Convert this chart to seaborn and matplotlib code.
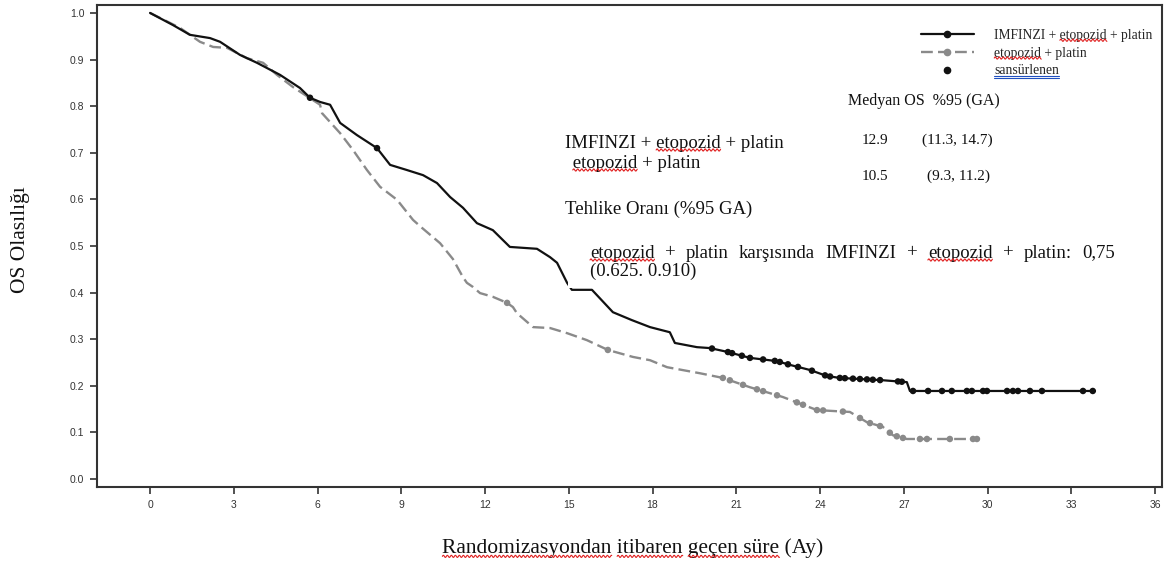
import numpy as np
import pandas as pd
import matplotlib
matplotlib.use("Agg")
import matplotlib.pyplot as plt
import seaborn as sns
from matplotlib.lines import Line2D
from matplotlib.patches import Rectangle

# ---------------- data (months, survival probability) ----------------
imf_t = [0.0, 0.82, 1.43, 2.15, 2.51, 3.22, 3.83, 4.66, 5.37, 5.73, 6.09, 6.45,
         6.81, 7.41, 8.13, 8.60, 9.20, 9.78, 10.28, 10.75, 11.21, 11.71, 12.28,
         12.89, 13.86, 14.33, 14.58, 14.94, 15.11, 15.83, 16.58, 17.26, 17.91,
         18.62, 18.80, 19.59, 20.06, 20.67, 21.49, 22.46, 22.92, 23.64, 24.25,
         24.71, 26.25, 27.11, 27.22, 33.85]
imf_s = [1.0, 0.974, 0.953, 0.946, 0.938, 0.910, 0.893, 0.867, 0.839, 0.818, 0.809, 0.803,
         0.764, 0.738, 0.710, 0.674, 0.663, 0.652, 0.635, 0.605, 0.582, 0.549, 0.534,
         0.498, 0.494, 0.476, 0.464, 0.421, 0.406, 0.406, 0.358, 0.341, 0.326,
         0.315, 0.292, 0.283, 0.281, 0.273, 0.260, 0.253, 0.245, 0.234, 0.221,
         0.217, 0.212, 0.208, 0.189, 0.189]

ep_t = [0.0, 1.07, 1.79, 2.26, 2.76, 3.47, 4.05, 4.55, 5.12, 6.09, 6.16, 6.81,
        7.27, 7.77, 8.24, 8.85, 9.42, 9.74, 10.39, 10.85, 11.21, 11.35, 11.57,
        11.82, 12.28, 12.79, 13.0, 13.14, 13.72, 14.33, 14.94, 15.65, 16.40,
        17.30, 17.91, 18.52, 19.70, 20.52, 21.49, 22.67, 23.89, 25.07, 25.68,
        26.25, 26.61, 27.11, 29.73]
ep_s = [1.0, 0.968, 0.938, 0.927, 0.925, 0.903, 0.893, 0.867, 0.841, 0.803, 0.785, 0.742,
        0.706, 0.663, 0.627, 0.599, 0.556, 0.539, 0.506, 0.472, 0.433, 0.421, 0.412,
        0.399, 0.391, 0.378, 0.369, 0.356, 0.326, 0.324, 0.313, 0.298, 0.277,
        0.262, 0.255, 0.240, 0.227, 0.217, 0.197, 0.176, 0.148, 0.144, 0.122,
        0.112, 0.094, 0.086, 0.086]

imf_censored = [5.73, 8.13, 20.13, 20.70, 20.85, 21.20, 21.49, 21.96, 22.38, 22.56,
                22.85, 23.21, 23.71, 24.18, 24.36, 24.71, 24.89, 25.18, 25.43, 25.68,
                25.89, 26.15, 26.79, 26.93, 27.33, 27.87, 28.37, 28.72, 29.26, 29.44,
                29.84, 29.98, 30.70, 30.91, 31.09, 31.52, 31.95, 33.42, 33.77]
ep_censored = [12.79, 16.40, 20.52, 20.77, 21.24, 21.74, 21.96, 22.46, 23.17, 23.39,
               23.89, 24.11, 24.82, 25.43, 25.79, 26.15, 26.50, 26.75, 26.97, 27.58,
               27.83, 28.65, 29.48, 29.62]

x_ticks = list(range(0, 37, 3))
y_ticks = [0.0, 0.1, 0.2, 0.3, 0.4, 0.5, 0.6, 0.7, 0.8, 0.9, 1.0]

label_imf = "IMFINZI + etopozid + platin"
label_ep = "etopozid + platin"
label_cens = "sansürlenen"

# ---------------- figure ----------------
sns.set_theme(style="ticks")
plt.rcParams['font.family'] = ['Liberation Serif', 'DejaVu Serif']

W, H = 1167, 566
fig = plt.figure(figsize=(W / 100, H / 100), dpi=100)
fig.patch.set_facecolor("white")
ax = fig.add_axes([97 / W, 1 - 487 / H, (1162 - 97) / W, (487 - 5) / H])
ax.set_facecolor("white")

BLACK = "#111111"
GREY = "#8a8a8a"

df_imf = pd.DataFrame({"t": imf_t, "s": imf_s})
df_ep = pd.DataFrame({"t": ep_t, "s": ep_s})

sns.lineplot(data=df_ep, x="t", y="s", sort=False, estimator=None, ax=ax,
             color=GREY, linewidth=1.7, linestyle=(0, (5, 2.2)), zorder=2)
sns.lineplot(data=df_imf, x="t", y="s", sort=False, estimator=None, ax=ax,
             color=BLACK, linewidth=1.6, zorder=3)

imf_cy = np.interp(imf_censored, imf_t, imf_s)
ep_cy = np.interp(ep_censored, ep_t, ep_s)
sns.scatterplot(x=ep_censored, y=ep_cy, ax=ax, color=GREY, s=22,
                edgecolor="none", linewidth=0, zorder=3)
sns.scatterplot(x=imf_censored, y=imf_cy, ax=ax, color=BLACK, s=22,
                edgecolor="none", linewidth=0, zorder=4)

ax.set_xlim(-1.9, 36.25)
ax.set_ylim(-0.017, 1.017)
ax.set_xticks(x_ticks)
ax.set_xticklabels([str(v) for v in x_ticks])
ax.set_yticks(y_ticks)
ax.set_yticklabels([f"{v:.1f}" for v in y_ticks])

for sp in ax.spines.values():
    sp.set_visible(True)
    sp.set_color("#333333")
    sp.set_linewidth(1.5)

tick_font = ['Liberation Sans Narrow', 'Liberation Sans', 'DejaVu Sans']
ax.tick_params(axis="both", direction="out", length=5, width=1.2, color="#333333",
               labelsize=7.5, labelcolor="#333333", pad=4)
ax.tick_params(axis="x", pad=4)
for lab in ax.get_xticklabels() + ax.get_yticklabels():
    lab.set_family(tick_font)

ax.set_xlabel("Randomizasyondan itibaren geçen süre (Ay)", fontsize=15.5, color="#111111")
ax.set_ylabel("OS Olasılığı", fontsize=15.5, color="#111111")
ax.xaxis.set_label_coords((633 - 97) / 1065, (487 - 548) / 482)
ax.xaxis.label.set_va("center")
ax.yaxis.set_label_coords((21 - 97) / 1065, (487 - 240) / 482)
ax.yaxis.label.set_va("center")

# ---------------- legend ----------------
handles = [
    Line2D([0, 0.5, 1], [0, 0, 0], color=BLACK, lw=1.6, marker="o", markersize=4.5,
           markevery=[1]),
    Line2D([0, 0.5, 1], [0, 0, 0], color=GREY, lw=1.7, linestyle=(0, (5, 2.2)),
           marker="o", markersize=4.5, markevery=[1]),
    Line2D([], [], color=BLACK, lw=0, marker="o", markersize=4.5),
]
leg = ax.legend(handles, [label_imf, label_ep, label_cens], loc="upper left",
                bbox_to_anchor=(916 / W, 1 - 24 / H), bbox_transform=fig.transFigure,
                frameon=True, fancybox=False, framealpha=1, facecolor="white",
                edgecolor="white", fontsize=9.8, handlelength=3.9, handletextpad=1.5,
                labelspacing=0.35, borderpad=0.35, borderaxespad=0)
leg.set_zorder(10)

# ---------------- annotation texts ----------------
def ftext(x, y, s, size, **kw):
    return fig.text(x / W, 1 - y / H, s, fontsize=size, va="center", ha="left",
                    color="#111111", **kw)

# white text box of the hazard ratio panel
fig.patches.append(Rectangle((568 / W, 1 - 288 / H), (1120 - 568) / W, (288 - 233) / H,
                             transform=fig.transFigure, facecolor="white",
                             edgecolor="none", zorder=5))

t_med = ftext(848, 101, "Medyan OS  %95 (GA)", 11.5)
t_imf = ftext(565, 143, label_imf, 13.5)
t_ep = ftext(568, 163, " " + label_ep, 13.5)
ftext(862, 140, "12.9", 11)
ftext(922, 140, "(11.3, 14.7)", 11)
ftext(862, 176, "10.5", 11)
ftext(927, 176, "(9.3, 11.2)", 11)
ftext(565, 209, "Tehlike Oranı (%95 GA)", 13.5)

fig.canvas.draw()
renderer = fig.canvas.get_renderer()

# justified hazard-ratio line between x=590 and x=1115
hr_words = ["etopozid", "+", "platin", "karşısında", "IMFINZI", "+", "etopozid",
            "+", "platin:", "0,75"]
hr_left, hr_right = 590, 1115
word_artists = [ftext(0, 253, wd, 13.5) for wd in hr_words]
widths = [a.get_window_extent(renderer).width for a in word_artists]
gap = (hr_right - hr_left - sum(widths)) / (len(hr_words) - 1)
xpos = hr_left
for a, w_ in zip(word_artists, widths):
    a.set_x(xpos / W)
    a.set_zorder(6)
    xpos += w_ + gap
t_ci = ftext(590, 271, "(0.625. 0.910)", 13.5)
t_ci.set_zorder(6)

fig.canvas.draw()


# spell-check style underlines (as in the source document)
def underline(artist, sub, color, wavy=True):
    s = artist.get_text()
    i = s.find(sub)
    if i < 0:
        return
    bb = artist.get_window_extent(renderer)
    fp = artist.get_fontproperties()
    wp = renderer.get_text_width_height_descent(s[:i], fp, ismath=False)[0] if i else 0
    ws = renderer.get_text_width_height_descent(s[:i] + sub, fp, ismath=False)[0]
    x0, x1 = bb.x0 + wp, bb.x0 + ws
    y0 = bb.y0 + 1.5
    xs = np.linspace(x0, x1, max(int((x1 - x0) * 2), 4))
    if wavy:
        ys = y0 + 1.1 * np.sin((xs - x0) / 4.0 * 2 * np.pi)
        fig.add_artist(Line2D(xs / W, ys / H, transform=fig.transFigure, color=color,
                              lw=0.8, zorder=12))
    else:
        for dy in (0, -2):
            fig.add_artist(Line2D([x0 / W, x1 / W], [(y0 + dy) / H] * 2,
                                  transform=fig.transFigure, color=color, lw=0.8,
                                  zorder=12))


RED = "#e02020"
underline(t_imf, "etopozid", RED)
underline(t_ep, "etopozid", RED)
underline(word_artists[0], "etopozid", RED)
underline(word_artists[6], "etopozid", RED)
lt = leg.get_texts()
underline(lt[0], "etopozid", RED)
underline(lt[1], "etopozid", RED)
underline(lt[2], "sansürlenen", "#2050c0", wavy=False)
xl = ax.xaxis.label
underline(xl, "Randomizasyondan", RED)
underline(xl, "itibaren", RED)
underline(xl, "geçen süre", RED)

fig.savefig("out.png", dpi=100, facecolor="white")
